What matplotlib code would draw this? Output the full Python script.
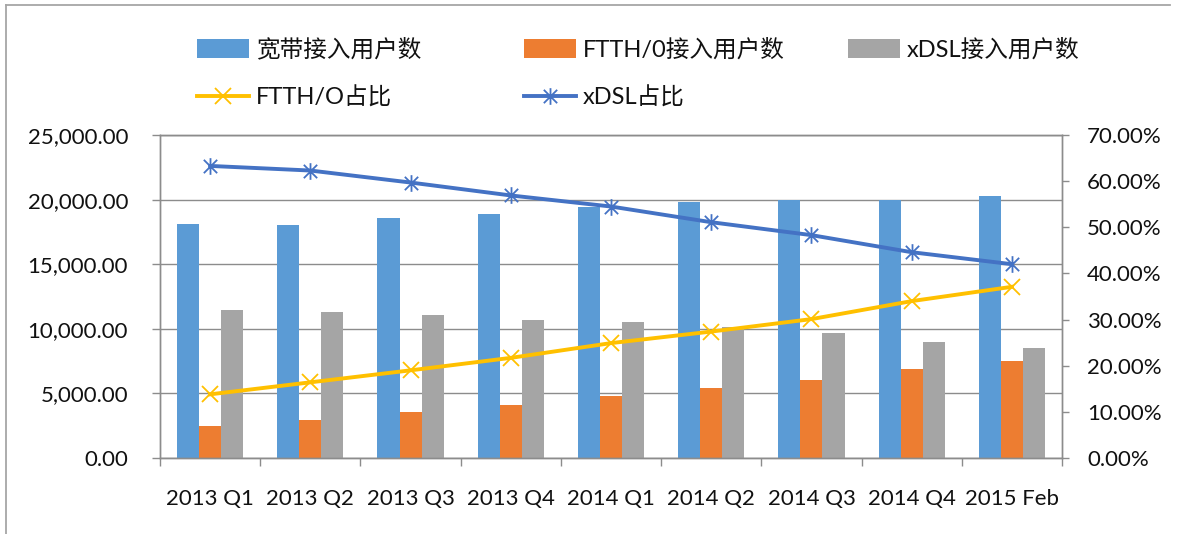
import matplotlib
matplotlib.use("Agg")
import matplotlib.pyplot as plt
import numpy as np
from matplotlib.path import Path
from matplotlib.lines import Line2D
from matplotlib.ticker import FuncFormatter, MultipleLocator, FixedLocator

plt.rcParams['font.family'] = ['Lato', 'Noto Sans CJK SC', 'DejaVu Sans']

categories = ["2013 Q1", "2013 Q2", "2013 Q3", "2013 Q4", "2014 Q1",
              "2014 Q2", "2014 Q3", "2014 Q4", "2015 Feb"]
broadband = [18100, 18060, 18580, 18880, 19400, 19790, 20000, 20000, 20250]
ftth_users = [2500, 2970, 3540, 4080, 4820, 5390, 6010, 6860, 7480]
xdsl_users = [11460, 11270, 11090, 10710, 10530, 10110, 9670, 8950, 8490]
ftth_share = [13.8, 16.4, 19.0, 21.7, 24.9, 27.4, 30.1, 34.0, 37.1]
xdsl_share = [63.3, 62.3, 59.7, 56.9, 54.5, 51.1, 48.3, 44.6, 42.0]

labels_bar = ["宽带接入用户数", "FTTH/0接入用户数", "xDSL接入用户数"]
labels_line = ["FTTH/O占比", "xDSL占比"]

c_blue, c_orange, c_grey = "#5B9BD5", "#ED7D31", "#A5A5A5"
c_yellow, c_lblue = "#FFC000", "#4472C4"
axis_grey = "#8C8C8C"
grid_grey = "#8C8C8C"
txt = "#111111"

W, H = 1178, 534
fig = plt.figure(figsize=(W / 100, H / 100), dpi=100)
ax = fig.add_axes([160 / W, 1 - 458 / H, (1062 - 160) / W, (458 - 135) / H])

x = np.arange(len(categories))
bw = 0.22
ax.bar(x - bw, broadband, bw, color=c_blue, zorder=2, label=labels_bar[0])
ax.bar(x, ftth_users, bw, color=c_orange, zorder=2, label=labels_bar[1])
ax.bar(x + bw, xdsl_users, bw, color=c_grey, zorder=2, label=labels_bar[2])

ax.set_xlim(-0.5, len(categories) - 0.5)
ax.set_ylim(0, 25000)
ax.yaxis.set_major_locator(MultipleLocator(5000))
ax.yaxis.set_major_formatter(FuncFormatter(lambda v, p: f"{v:,.2f}"))
ax.grid(axis='y', color=grid_grey, linewidth=1.0, zorder=0)
ax.set_axisbelow(True)

ax.set_xticks(x)
ax.set_xticklabels(categories)
ax.xaxis.set_minor_locator(FixedLocator(np.arange(-0.5, len(categories), 1.0)))
ax.tick_params(axis='x', which='major', length=0, pad=22, labelsize=16, labelcolor=txt)
ax.tick_params(axis='x', which='minor', length=6, width=1, color=axis_grey, direction='out')
ax.tick_params(axis='y', length=6, width=1, color=axis_grey, pad=17, labelsize=16, labelcolor=txt)

for s in ['left', 'bottom', 'right', 'top']:
    ax.spines[s].set_color(axis_grey)
    ax.spines[s].set_linewidth(1.0)

star = Path([(-1, -1), (1, 1), (-1, 1), (1, -1), (0, -1.25), (0, 1.25)],
            [Path.MOVETO, Path.LINETO, Path.MOVETO, Path.LINETO, Path.MOVETO, Path.LINETO])

ax2 = ax.twinx()
ax2.set_ylim(0, 0.7)
ax2.yaxis.set_major_locator(MultipleLocator(0.1))
ax2.yaxis.set_major_formatter(FuncFormatter(lambda v, p: f"{v * 100:.2f}%"))
ax2.tick_params(axis='y', length=5, width=1, color=axis_grey, pad=13, labelsize=16, labelcolor=txt)
for s in ['left', 'bottom', 'right', 'top']:
    ax2.spines[s].set_color(axis_grey)
    ax2.spines[s].set_linewidth(1.0)

fs = np.array(ftth_share) / 100
xs = np.array(xdsl_share) / 100
l1, = ax2.plot(x, fs, color=c_yellow, linewidth=2.8, marker='x', markersize=11,
               markeredgewidth=1.3, zorder=4, label=labels_line[0])
l2, = ax2.plot(x, xs, color=c_lblue, linewidth=2.8, marker=star, markersize=12,
               markeredgewidth=1.3, zorder=4, label=labels_line[1])

h = ax.get_legend_handles_labels()[0]
cols = [([h[0], l1], [labels_bar[0], labels_line[0]], 197),
        ([h[1], l2], [labels_bar[1], labels_line[1]], 524),
        ([h[2]], [labels_bar[2]], 848)]
for hs, ls, xpx in cols:
    fig.legend(hs, ls, loc='upper left', bbox_to_anchor=(xpx / W, 1 - 38 / H),
               frameon=False, fontsize=17, handlelength=2.2, handleheight=0.85,
               handletextpad=0.3, labelspacing=1.1, borderpad=0, borderaxespad=0,
               labelcolor=txt)

# chart border
fig.add_artist(Line2D([6 / W, 6 / W], [0, 1 - 5 / H], transform=fig.transFigure,
                      color="#A6A6A6", linewidth=1.3))
fig.add_artist(Line2D([6 / W, 1170 / W], [1 - 5 / H, 1 - 5 / H], transform=fig.transFigure,
                      color="#A6A6A6", linewidth=1.3))

fig.savefig("out.png", dpi=100)
